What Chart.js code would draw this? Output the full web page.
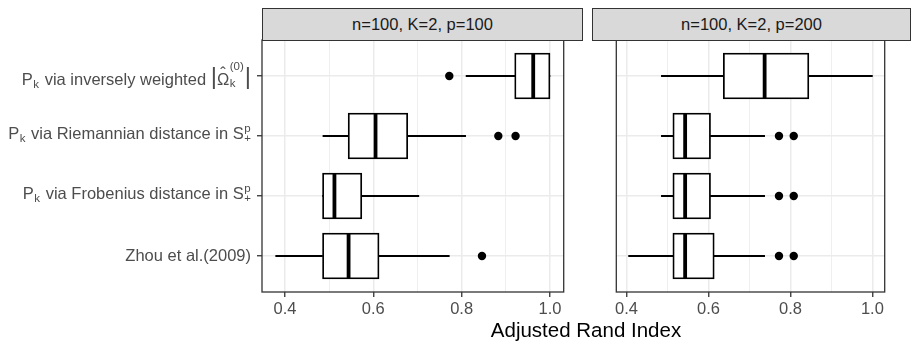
<!DOCTYPE html>
<html>
<head>
<meta charset="utf-8">
<script src="https://cdn.jsdelivr.net/npm/chart.js@4.4.0/dist/chart.umd.min.js"></script>
<style>
  body { margin: 0; background: #fff; }
  #wrap { position: relative; width: 911px; height: 345px; font-family: 'Liberation Sans', Arial, sans-serif; }
  canvas { position: absolute; top: 0; }
  .strip { position: absolute; top: 8px; height: 33px; box-sizing: border-box; background: #D9D9D9;
           border: 1.3px solid #333; color: #1A1A1A; font-size: 16.5px; text-align: center; line-height: 31px; }
  #xtitle { position: absolute; left: 262px; width: 648px; top: 318px; text-align: center; font-size: 20.5px; color: #000; }
</style>
</head>
<body>
<div id="wrap">
  <canvas id="left" width="590" height="345" style="left:0;width:590px;height:345px"></canvas>
  <canvas id="right" width="321" height="345" style="left:590px;width:321px;height:345px"></canvas>
  <div class="strip" id="strip-left" style="left:262px;width:321px"></div>
  <div class="strip" id="strip-right" style="left:592px;width:319px"></div>
  <div id="xtitle">Adjusted Rand Index</div>
</div>
<script>
// Categories (top to bottom); _{..} is a subscript, ^{..} a superscript
const categories = [
  'P_{k} via inversely weighted |Ω̂_{k}^{(0)}|',
  'P_{k} via Riemannian distance in S_{+}^{p}',
  'P_{k} via Frobenius distance in S_{+}^{p}',
  'Zhou et al.(2009)'
];
const panelTitles = ['n=100, K=2, p=100', 'n=100, K=2, p=200'];

// n=100, K=2, p=100
const p100Min = [0.810, 0.486, 0.485, 0.379];
const p100Q1 = [0.920, 0.543, 0.485, 0.485];
const p100Median = [0.962, 0.605, 0.512, 0.544];
const p100Q3 = [1.000, 0.678, 0.574, 0.613];
const p100Max = [1.000, 0.809, 0.703, 0.772];
const p100Outliers = [[0.772], [0.883, 0.922], [], [0.846]];

// n=100, K=2, p=200
const p200Min = [0.485, 0.485, 0.485, 0.405];
const p200Q1 = [0.636, 0.513, 0.513, 0.513];
const p200Median = [0.737, 0.543, 0.543, 0.543];
const p200Q3 = [0.845, 0.605, 0.605, 0.614];
const p200Max = [1.000, 0.737, 0.737, 0.737];
const p200Outliers = [[], [0.772, 0.808], [0.772, 0.808], [0.772, 0.808]];

// x axis ticks
const xTicks = [0.4, 0.6, 0.8, 1.0];
const xMinorTicks = [0.5, 0.7, 0.9];

const FAMILY = '"Liberation Sans", Arial, sans-serif';
const BASE_FONT = '16.5px ' + FAMILY;
const SMALL_FONT = '11.5px ' + FAMILY;
const BAR_FONT = '24px ' + FAMILY;

document.getElementById('strip-left').textContent = panelTitles[0];
document.getElementById('strip-right').textContent = panelTitles[1];

// split a label into base text and sub/superscript parts
function parseLabel(s) {
  const parts = [];
  const re = /([_^])\{([^}]*)\}|([^_^]+)/g;
  let m;
  while ((m = re.exec(s)) !== null) {
    if (m[3] !== undefined) parts.push({ kind: 'base', text: m[3] });
    else parts.push({ kind: m[1] === '_' ? 'sub' : 'sup', text: m[2] });
  }
  return parts;
}

function layoutLabel(ctx, parts) {
  const items = [];
  const hasScripts = parts.some(p => p.kind !== 'base');
  const tallLabel = parts.some(p => p.kind === 'base' && p.text.includes('\u0302'));
  const shift = tallLabel ? 4 : (hasScripts ? -2 : 0);
  let x = 0, scriptStart = null, scriptWidth = 0, tall = false;
  for (const p of parts) {
    if (p.kind === 'base') {
      if (scriptStart !== null) { x = scriptStart + scriptWidth + 1; scriptStart = null; }
      for (const chunk of p.text.split(/(\||.\u0302)/u)) {
        if (!chunk) continue;
        if (chunk === '|') {
          ctx.font = BAR_FONT;
          items.push({ text: '|', font: BAR_FONT, dx: x, dy: shift - 3 });
          x += ctx.measureText('|').width;
        } else if (chunk.endsWith('\u0302')) {
          const ch = chunk[0];
          ctx.font = BASE_FONT;
          const w = ctx.measureText(ch).width;
          items.push({ text: ch, font: BASE_FONT, dx: x, dy: shift });
          const hw = ctx.measureText('\u02C6').width;
          items.push({ text: '\u02C6', font: BASE_FONT, dx: x + (w - hw) / 2, dy: shift - 6 });
          x += w;
        } else {
          ctx.font = BASE_FONT;
          items.push({ text: chunk, font: BASE_FONT, dx: x, dy: shift });
          x += ctx.measureText(chunk).width;
        }
      }
      tall = p.text.endsWith('\u0302');
    } else {
      ctx.font = SMALL_FONT;
      const w = ctx.measureText(p.text).width;
      if (scriptStart === null) { scriptStart = x + 0.5; scriptWidth = 0; }
      const dy = p.kind === 'sub' ? (tall ? 4 : 5) : (tall ? -13 : -5);
      items.push({ text: p.text, font: SMALL_FONT, dx: scriptStart, dy: shift + dy });
      scriptWidth = Math.max(scriptWidth, w);
    }
  }
  if (scriptStart !== null) x = scriptStart + scriptWidth;
  return { items, width: x };
}

const richLabels = {
  id: 'richLabels',
  afterDraw(chart) {
    const { ctx } = chart;
    const yScale = chart.scales.y;
    const right = yScale.right - 11;
    ctx.save();
    ctx.fillStyle = '#4D4D4D';
    ctx.textAlign = 'left';
    ctx.textBaseline = 'middle';
    categories.forEach((label, i) => {
      const y = yScale.getPixelForValue(i + 1);
      const { items, width } = layoutLabel(ctx, parseLabel(label));
      const x0 = right - width;
      items.forEach(it => {
        ctx.font = it.font;
        ctx.fillText(it.text, x0 + it.dx, y + it.dy);
      });
    });
    ctx.restore();
  }
};

const panelBorder = {
  id: 'panelBorder',
  afterDraw(chart) {
    const { ctx, chartArea: a } = chart;
    ctx.save();
    ctx.strokeStyle = '#333333';
    ctx.lineWidth = 1.3;
    ctx.strokeRect(a.left, a.top, a.right - a.left, a.bottom - a.top);
    ctx.restore();
  }
};

function isMajor(ctx) {
  return ctx.tick && xTicks.includes(ctx.tick.value);
}

function makePanel(canvasId, stats, xMin, xMax, withLabels) {
  const rows = categories.map((_, i) => i + 1);
  const outlierPoints = [];
  stats.outliers.forEach((list, i) => list.forEach(v => outlierPoints.push({ x: v, y: rows[i] })));

  return new Chart(document.getElementById(canvasId), {
    type: 'bar',
    data: {
      datasets: [
        {
          type: 'scatter',
          data: outlierPoints,
          pointRadius: 4.2,
          pointBackgroundColor: '#000',
          pointBorderWidth: 0,
          order: 0
        },
        {
          type: 'scatter',
          data: rows.map((r, i) => ({ x: stats.median[i], y: r })),
          pointStyle: 'line',
          rotation: 90,
          pointRadius: 22.5,
          pointBorderColor: '#000',
          pointBorderWidth: 3.8,
          order: 1
        },
        {
          data: rows.map((r, i) => ({ x: [stats.q1[i], stats.q3[i]], y: r })),
          backgroundColor: '#fff',
          borderColor: '#000',
          borderWidth: 1.8,
          borderSkipped: false,
          barThickness: 46,
          grouped: false,
          order: 2
        },
        {
          data: rows.map((r, i) => ({ x: [stats.min[i], stats.q1[i]], y: r })),
          backgroundColor: '#000',
          borderWidth: 0,
          barThickness: 1.4,
          grouped: false,
          order: 3
        },
        {
          data: rows.map((r, i) => ({ x: [stats.q3[i], stats.max[i]], y: r })),
          backgroundColor: '#000',
          borderWidth: 0,
          barThickness: 1.4,
          grouped: false,
          order: 3
        }
      ]
    },
    options: {
      responsive: false,
      animation: false,
      indexAxis: 'y',
      layout: { padding: { top: 40, right: withLabels ? 8 : 1, left: withLabels ? 0 : 3, bottom: 0 } },
      plugins: { legend: { display: false }, tooltip: { enabled: false } },
      scales: {
        x: {
          type: 'linear',
          min: xMin,
          max: xMax,
          afterBuildTicks: (scale) => {
            scale.ticks = [...xTicks, ...xMinorTicks].sort((a, b) => a - b).map(v => ({ value: v }));
          },
          afterFit: (scale) => { scale.height = 53; },
          ticks: {
            autoSkip: false,
            maxRotation: 0,
            padding: 3,
            color: '#4D4D4D',
            font: { family: FAMILY, size: 16.5 },
            callback: (v) => xTicks.includes(v) ? v.toFixed(1) : ''
          },
          grid: {
            color: '#EBEBEB',
            lineWidth: (c) => isMajor(c) ? 1.5 : 0.8,
            tickLength: 5,
            tickWidth: 1.3,
            tickColor: (c) => isMajor(c) ? '#333333' : 'rgba(0,0,0,0)'
          },
          border: { display: false }
        },
        y: {
          type: 'linear',
          min: 0.4,
          max: 4.6,
          reverse: true,
          offset: false,
          afterBuildTicks: (scale) => { scale.ticks = rows.map(v => ({ value: v })); },
          afterFit: (scale) => { scale.width = withLabels ? 262 : 0; },
          ticks: { display: withLabels, callback: () => '' },
          grid: {
            offset: false,
            color: '#EBEBEB',
            lineWidth: 1.5,
            drawTicks: withLabels,
            tickLength: 5,
            tickWidth: 1.3,
            tickColor: '#333333'
          },
          border: { display: false }
        }
      }
    },
    plugins: withLabels ? [panelBorder, richLabels] : [panelBorder]
  });
}

makePanel('left', {
  min: p100Min, q1: p100Q1, median: p100Median, q3: p100Q3, max: p100Max, outliers: p100Outliers
}, 0.348, 1.031, true);

makePanel('right', {
  min: p200Min, q1: p200Q1, median: p200Median, q3: p200Q3, max: p200Max, outliers: p200Outliers
}, 0.375, 1.030, false);
</script>
</body>
</html>
